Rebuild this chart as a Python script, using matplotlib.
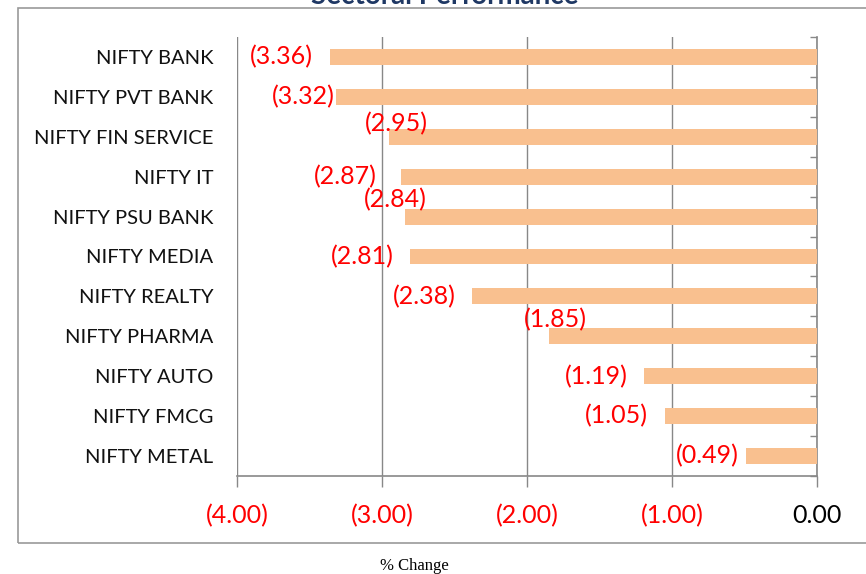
import matplotlib
matplotlib.use("Agg")
import matplotlib.pyplot as plt
from matplotlib.patches import Rectangle

categories = ["NIFTY BANK", "NIFTY PVT BANK", "NIFTY FIN SERVICE", "NIFTY IT",
              "NIFTY PSU BANK", "NIFTY MEDIA", "NIFTY REALTY", "NIFTY PHARMA",
              "NIFTY AUTO", "NIFTY FMCG", "NIFTY METAL"]
values = [-3.36, -3.32, -2.95, -2.87, -2.84, -2.81, -2.38, -1.85, -1.19, -1.05, -0.49]
x_ticks = [-4, -3, -2, -1, 0]
x_tick_labels = ["(4.00)", "(3.00)", "(2.00)", "(1.00)", "0.00"]
title = "Sectoral Performance"
xlabel = "% Change"

# label offsets in pixels relative to bar end (layout)
label_offsets = [(-48, 0), (-32, 0), (7, 13), (-56, 0), (-10, 17), (-47, 0),
                 (-48, 0), (7, 17), (-48, 0), (-48, 0), (-39, 0)]

W, H = 866, 574
fig = plt.figure(figsize=(W / 100, H / 100), dpi=100)
ax = fig.add_axes([237 / W, 1 - 476 / H, (817 - 237) / W, (476 - 37) / H])

font = "Lato"
n = len(categories)
ypos = list(range(n))
ax.barh(ypos, values, height=0.4, color="#F9C08F", zorder=3)
ax.set_ylim(n - 0.5, -0.5)
ax.set_xlim(-4, 0)

ax.set_xticks(x_ticks)
ax.set_xticklabels(x_tick_labels, fontsize=18, fontfamily=font)
for lab, v in zip(ax.get_xticklabels(), x_ticks):
    lab.set_color("red" if v < 0 else "black")
ax.tick_params(axis="x", direction="out", length=8, width=1, color="#888888", pad=12)

ax.set_yticks(ypos)
ax.set_yticklabels(categories, fontsize=14.5, fontfamily=font, color="#111111")
ax.tick_params(axis="y", which="major", length=0, pad=17)
ax.set_yticks([i - 0.5 for i in range(n + 1)], minor=True)
ax.tick_params(axis="y", which="minor", left=False, right=True, direction="in",
               length=5, width=1, color="#888888")

ax.grid(axis="x", color="#888888", linewidth=1, zorder=0)
for s in ["top", "left"]:
    ax.spines[s].set_visible(False)
for s in ["right", "bottom"]:
    ax.spines[s].set_color("#888888")
    ax.spines[s].set_linewidth(1.2)

for i, (v, (dx, dy)) in enumerate(zip(values, label_offsets)):
    ax.annotate(f"({abs(v):.2f})", xy=(v, i), xytext=(dx * 0.72, dy * 0.72),
                textcoords="offset points", ha="center", va="center",
                color="red", fontsize=18, fontfamily=font, zorder=4)

# outer border
fig.patches.append(Rectangle((18 / W, 1 - 543 / H), (W + 5 - 18) / W, (543 - 8) / H,
                             transform=fig.transFigure, fill=False,
                             edgecolor="#999999", linewidth=1.2))

fig.text(445 / W, 1 - 4 / H, title, ha="center", va="baseline", fontsize=20,
         fontweight="bold", color="#1F3864", fontfamily=font)
fig.text(414 / W, 1 - 566 / H, xlabel, ha="center", va="center", fontsize=12,
         fontfamily="Liberation Serif")

fig.savefig("out.png", dpi=100)
